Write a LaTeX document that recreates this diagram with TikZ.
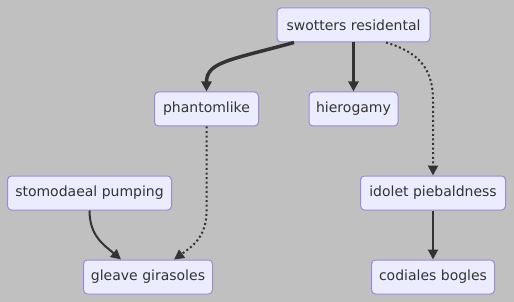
\documentclass[tikz,border=0pt]{standalone}
\usepackage{fontspec}
\setmainfont{DejaVu Sans}
\usepackage{tikz}
\usetikzlibrary{arrows.meta,shapes}

\definecolor{bgcol}{HTML}{C0C0C0}
\definecolor{boxfill}{HTML}{ECECFF}
\definecolor{boxline}{HTML}{9C88D8}
\definecolor{inkcol}{HTML}{333333}

\begin{document}
\begin{tikzpicture}[x=1pt,y=-1pt]
	
	\tikzset{box/.style = {shape=rectangle,rounded corners=4pt,draw=boxline,fill=boxfill,line width=1pt,
			minimum height=34pt,inner sep=0pt,text=inkcol,font=\fontsize{14pt}{16pt}\selectfont}}
	\tikzset{edge/.style = {-{Triangle[length=10pt,width=10pt]},draw=inkcol,line width=2pt}}
	\tikzset{thickedge/.style = {edge,line width=3.5pt}}
	\tikzset{dotedge/.style = {edge,dash pattern=on 2pt off 2.6pt}}
	
	\fill[bgcol] (0,0) rectangle (514,302);
	
	\node[box,minimum width=153pt] (sr) at (353.5,25) {swotters residental};
	\node[box,minimum width=104pt] (pl) at (206.5,109) {phantomlike};
	\node[box,minimum width=89pt] (hg) at (353.5,109) {hierogamy};
	\node[box,minimum width=164pt] (sp) at (89.5,193) {stomodaeal pumping};
	\node[box,minimum width=145pt] (ip) at (433,193) {idolet piebaldness};
	\node[box,minimum width=129pt] (gg) at (148,277) {gleave girasoles};
	\node[box,minimum width=123pt] (cb) at (433,277) {codiales bogles};
	
	\draw[thickedge] ([xshift=-59.5pt]sr.south) .. controls (230,60) and (206.5,62) .. (pl.north);
	\draw[thickedge] (sr.south) -- (hg.north);
	\draw[dotedge] ([xshift=32.5pt]sr.south) .. controls (418,52) and (433,68) .. (433,100) -- (ip.north);
	\draw[dotedge] (pl.south) -- (206.5,212) .. controls (206.5,238) and (190,248) .. ([xshift=26pt]gg.north);
	\draw[edge] (sp.south) .. controls (89.5,236) and (104,245) .. ([xshift=-27pt]gg.north);
	\draw[edge] (ip.south) -- (cb.north);
\end{tikzpicture}
\end{document}
